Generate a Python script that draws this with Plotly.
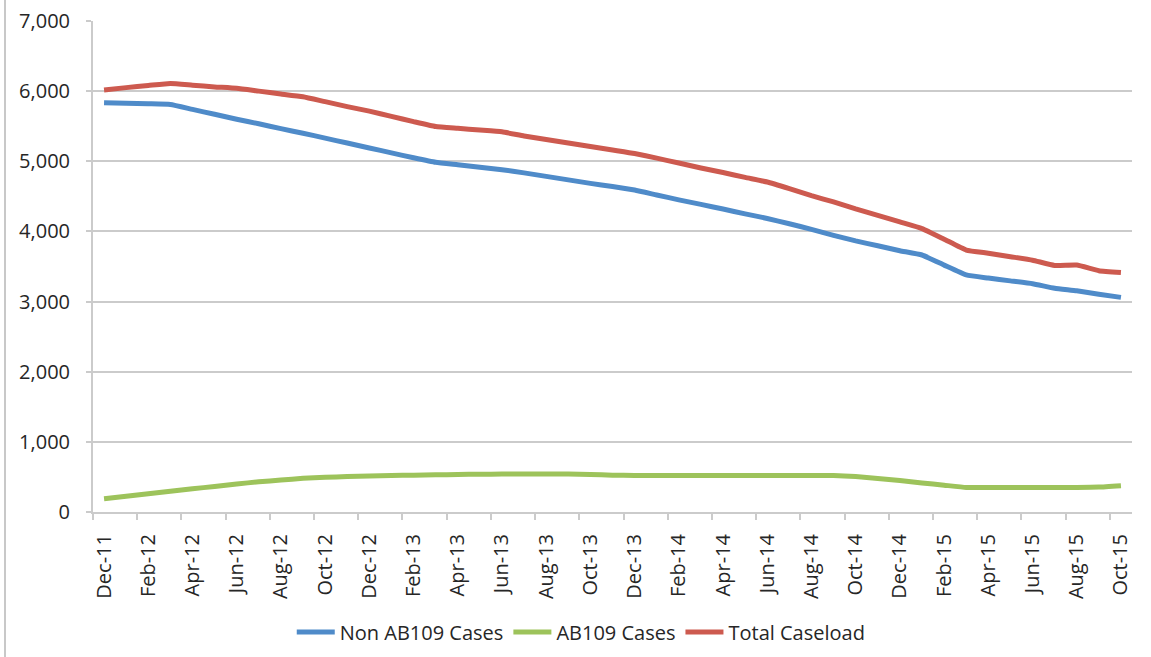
import plotly.graph_objects as go

# Monthly caseload, Dec-2011 through Oct-2015
months = [
    "Dec-11", "Jan-12", "Feb-12", "Mar-12", "Apr-12", "May-12", "Jun-12", "Jul-12",
    "Aug-12", "Sep-12", "Oct-12", "Nov-12", "Dec-12", "Jan-13", "Feb-13", "Mar-13",
    "Apr-13", "May-13", "Jun-13", "Jul-13", "Aug-13", "Sep-13", "Oct-13", "Nov-13",
    "Dec-13", "Jan-14", "Feb-14", "Mar-14", "Apr-14", "May-14", "Jun-14", "Jul-14",
    "Aug-14", "Sep-14", "Oct-14", "Nov-14", "Dec-14", "Jan-15", "Feb-15", "Mar-15",
    "Apr-15", "May-15", "Jun-15", "Jul-15", "Aug-15", "Sep-15", "Oct-15",
]

non_ab109 = [
    5835, 5828, 5820, 5810, 5740, 5670, 5600, 5535, 5465, 5400, 5330, 5260,
    5190, 5120, 5050, 4985, 4950, 4915, 4880, 4835, 4785, 4735, 4685, 4640,
    4590, 4520, 4450, 4385, 4320, 4250, 4185, 4110, 4030, 3945, 3865, 3795,
    3725, 3664, 3520, 3380, 3335, 3295, 3255, 3190, 3155, 3105, 3060,
]

ab109 = [
    190, 225, 260, 295, 330, 365, 400, 430, 455, 480, 495, 505,
    515, 520, 525, 530, 535, 538, 540, 540, 540, 540, 535, 525,
    520, 520, 520, 520, 520, 520, 520, 520, 520, 520, 505, 478,
    448, 415, 382, 350, 350, 350, 350, 350, 350, 355, 375,
]

total_caseload = [
    6015, 6050, 6080, 6110, 6085, 6060, 6040, 6000, 5960, 5920, 5850, 5780,
    5715, 5640, 5565, 5495, 5470, 5445, 5420, 5360, 5310, 5260, 5210, 5160,
    5110, 5045, 4975, 4905, 4840, 4770, 4705, 4610, 4510, 4420, 4320, 4230,
    4135, 4040, 3890, 3735, 3690, 3640, 3590, 3515, 3520, 3440, 3415,
]

idx = list(range(len(months)))
label_idx = idx[::2]
label_text = months[::2]
boundary_ticks = [i - 0.5 for i in label_idx]

series = [
    ("Non AB109 Cases", non_ab109, "#4F8BC9"),
    ("AB109 Cases", ab109, "#9DC35B"),
    ("Total Caseload", total_caseload, "#CD5A4F"),
]

FONT = "'Open Sans', Lato, sans-serif"
GRID = "#CBCBCB"
TEXT = "#262626"

fig = go.Figure()
for name, values, color in series:
    fig.add_trace(go.Scatter(
        x=idx, y=values, name=name, mode="lines",
        line=dict(color=color, width=5, shape="spline", smoothing=0.4),
    ))

# invisible helper trace for the boundary tick-mark axis
fig.add_trace(go.Scatter(x=[idx[0], idx[-1]], y=[0, 0], xaxis="x2", mode="lines",
                         line=dict(width=0), showlegend=False, hoverinfo="skip"))

fig.update_layout(
    width=1151, height=657,
    margin=dict(l=93, r=19, t=21, b=145, autoexpand=False),
    paper_bgcolor="white", plot_bgcolor="white",
    font=dict(family=FONT, color=TEXT, size=20),
    xaxis=dict(
        range=[-0.5, len(months) - 0.5], automargin=False,
        tickmode="array", tickvals=label_idx, ticktext=label_text,
        tickangle=-90, ticks="", showgrid=False, zeroline=False,
        showline=True, linecolor=GRID, linewidth=2,
        tickfont=dict(size=20, color=TEXT), ticklabelstandoff=12,
    ),
    xaxis2=dict(
        overlaying="x", anchor="y", side="bottom", automargin=False,
        range=[-0.5, len(months) - 0.5],
        tickmode="array", tickvals=boundary_ticks,
        ticks="outside", ticklen=7, tickwidth=2, tickcolor=GRID,
        showticklabels=False, showgrid=False, zeroline=False, showline=False,
    ),
    yaxis=dict(
        range=[0, 7000], dtick=1000, tickformat=",d", automargin=False,
        showgrid=True, gridcolor=GRID, gridwidth=2,
        showline=True, linecolor=GRID, linewidth=2,
        ticks="outside", ticklen=5, tickwidth=2, tickcolor=GRID,
        zeroline=False, tickfont=dict(size=20, color=TEXT),
        ticklabelstandoff=12,
    ),
    legend=dict(
        orientation="h", xref="container", yref="container",
        x=0.505, xanchor="center", y=0.038, yanchor="middle",
        font=dict(size=20, color=TEXT), itemwidth=38,
    ),
    shapes=[dict(
        type="line", xref="paper", yref="paper",
        x0=-0.0847, x1=-0.0847, y0=-0.3, y1=1.05,
        line=dict(color="#C8C8C8", width=2),
    )],
)

fig.write_html("out.html")
